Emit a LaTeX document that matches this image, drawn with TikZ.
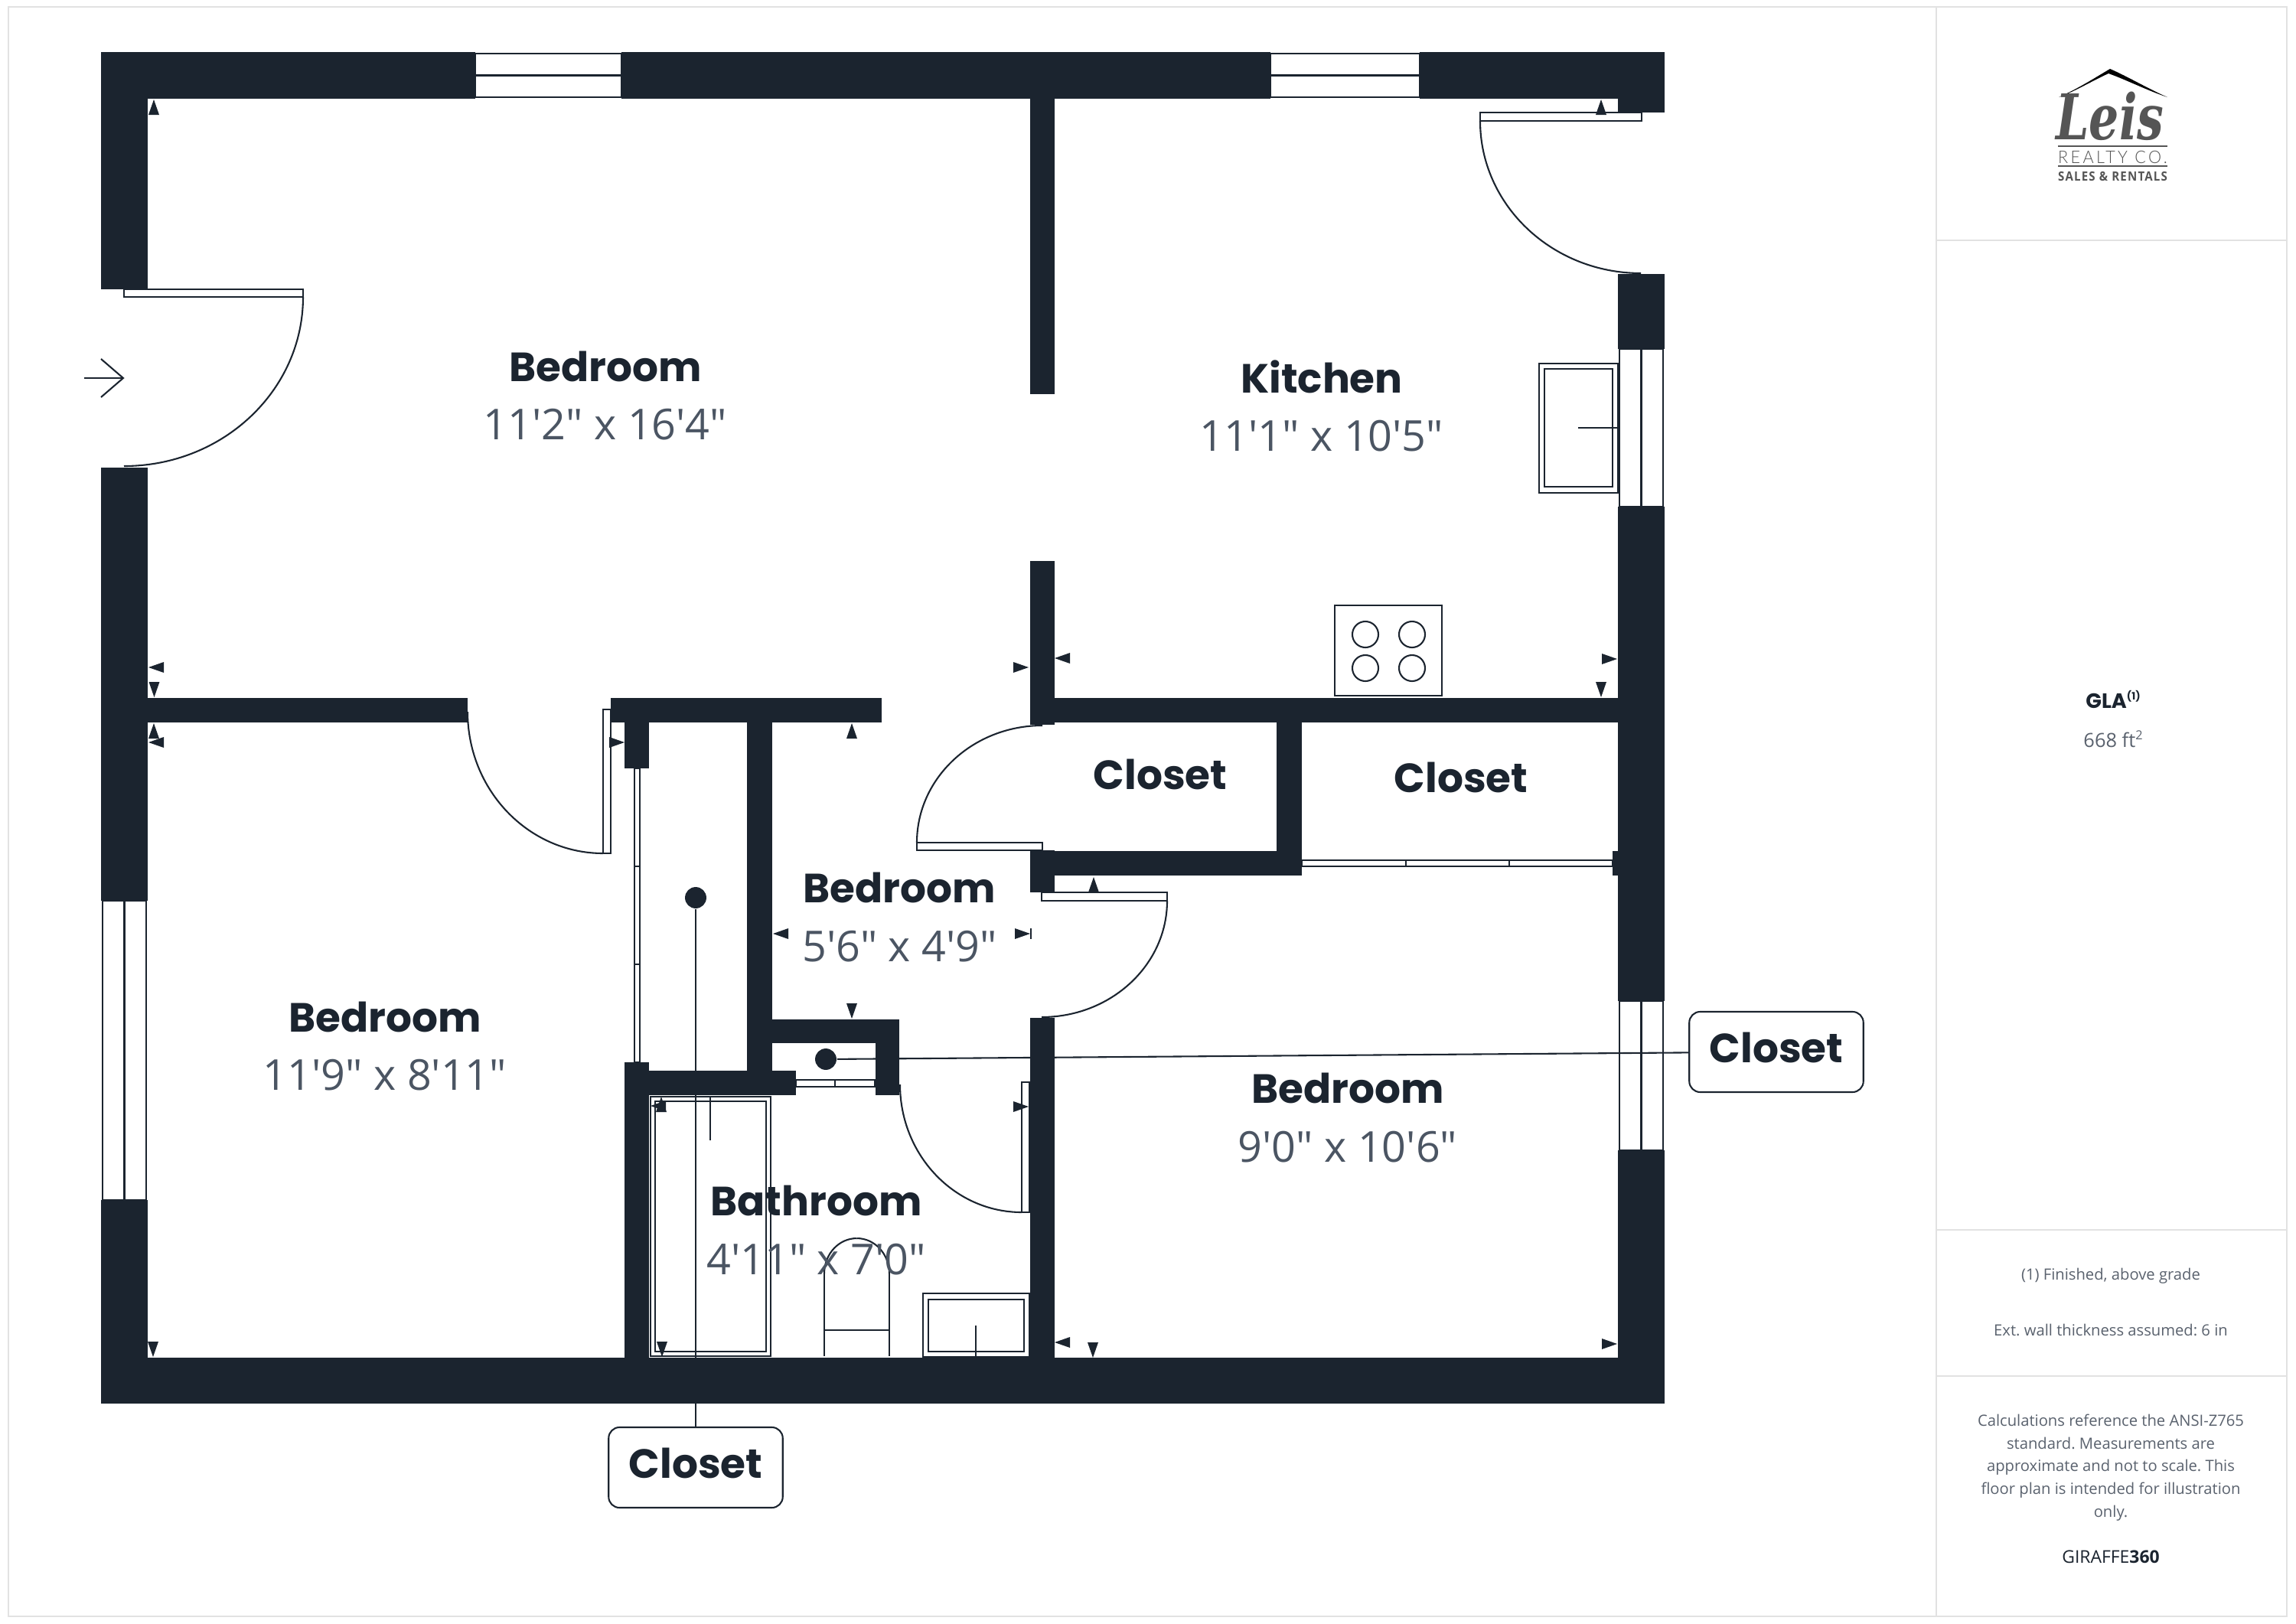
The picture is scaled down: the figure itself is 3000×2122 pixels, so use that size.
\documentclass[tikz,border=0pt]{standalone}
\usepackage{fontspec}
\usetikzlibrary{calc}
\newfontfamily\headf{Poppins}
\newfontfamily\dimf{Open Sans}
\newfontfamily\logof{DejaVu Serif}
\newfontfamily\logolight[LetterSpace=16]{Lato Light}
\newfontfamily\logobold[LetterSpace=8]{Open Sans}
\definecolor{wallc}{RGB}{27,36,47}
\definecolor{dimc}{RGB}{75,85,99}
\definecolor{framec}{RGB}{226,226,226}
\definecolor{sidec}{RGB}{90,98,110}
\definecolor{logoc}{RGB}{85,85,85}
\tikzset{
  wall/.style={fill=wallc},
  thinl/.style={draw=wallc,line width=0.5pt},
  panel/.style={draw=wallc,line width=0.5pt,fill=white},
  frameline/.style={draw=framec,line width=0.55pt},
  roomname/.style={anchor=base,inner sep=0pt,text=wallc,font=\headf\bfseries\fontsize{12.8}{15}\selectfont},
  roomdim/.style={anchor=base,inner sep=0pt,text=dimc,font=\dimf\fontsize{13.35}{15}\selectfont},
  callout/.style={draw=wallc,line width=0.5pt,fill=white,rounded corners=3.4pt,minimum width=54.6pt,minimum height=25.2pt,inner sep=0pt,text=wallc,font=\headf\bfseries\fontsize{12.8}{15}\selectfont},
  dot/.style={circle,fill=wallc,inner sep=0pt,minimum size=6.7pt},
  sidetext/.style={anchor=base,inner sep=0pt,text=sidec,font=\dimf\fontsize{4.85}{7}\selectfont\frenchspacing},
}
\newcommand{\wrect}[4]{\fill[wall] (#1,#2) rectangle (#3,#4);}
\newcommand{\arrU}[2]{\fill[wall] (#1,#2) -- (#1-7,#2+20) -- (#1+7,#2+20) -- cycle;}
\newcommand{\arrD}[2]{\fill[wall] (#1,#2) -- (#1-7,#2-20) -- (#1+7,#2-20) -- cycle;}
\newcommand{\arrL}[2]{\fill[wall] (#1,#2) -- (#1+20,#2-7) -- (#1+20,#2+7) -- cycle;}
\newcommand{\arrR}[2]{\fill[wall] (#1,#2) -- (#1-20,#2-7) -- (#1-20,#2+7) -- cycle;}
\newcommand{\qarc}[3]{\draw[thinl] (#1) .. controls ($(#1)!0.5523!(#2)$) and ($(#3)!0.5523!(#2)$) .. (#3);}
\begin{document}
\begin{tikzpicture}[x=0.24pt,y=-0.24pt]
\useasboundingbox (0,0) rectangle (3000,2122);
\fill[white] (0,0) rectangle (3000,2122);
% frame and sidebar
\draw[frameline] (11,9) rectangle (2988,2112);
\draw[frameline] (2530,9) -- (2530,2112);
\draw[frameline] (2530,314) -- (2988,314);
\draw[frameline] (2530,1607) -- (2988,1607);
\draw[frameline] (2530,1798) -- (2988,1798);
% windows
\draw[panel] (621,70) rectangle (812,127); \draw[thinl] (621,98.5) -- (812,98.5);
\draw[panel] (1660,70) rectangle (1855,127); \draw[thinl] (1660,98.5) -- (1855,98.5);
\draw[panel] (134,1177) rectangle (191,1568); \draw[thinl] (162.5,1177) -- (162.5,1568);
\draw[panel] (2116,456) rectangle (2173,662); \draw[thinl] (2144.5,456) -- (2144.5,662);
\draw[panel] (2116,1308) rectangle (2173,1503); \draw[thinl] (2144.5,1308) -- (2144.5,1503);
% walls
\wrect{132}{68}{621}{128.5}
\wrect{812}{68}{1660}{128.5}
\wrect{1855}{68}{2175}{128.5}
\wrect{2114}{128}{2175}{147}
\wrect{132}{128}{193}{378}
\wrect{132}{611}{193}{1177}
\wrect{132}{1568}{193}{1834}
\wrect{132}{1774}{2175}{1834}
\wrect{2114}{358}{2175}{456}
\wrect{2114}{662}{2175}{1308}
\wrect{2114}{1503}{2175}{1834}
\wrect{1345.5}{128}{1378}{515}
\wrect{1345.5}{733}{1378}{947}
\wrect{1345.5}{912}{2114}{944}
\wrect{192}{912}{611}{944}
\wrect{798}{912}{1152}{944}
\wrect{816}{944}{848}{1004}
\wrect{976}{944}{1009}{1400}
\wrect{1009}{1332}{1175}{1363}
\wrect{1144}{1363}{1175}{1431}
\wrect{816}{1388}{848}{1774}
\wrect{816}{1399}{1040}{1431}
\wrect{1345.5}{1111}{1378}{1166}
\wrect{1345.5}{1112}{1701}{1144}
\wrect{1668}{944}{1701}{1144}
\wrect{2107}{1112}{2114.5}{1144}
\wrect{1345.5}{1330}{1378}{1774}
% doors
\draw[panel] (162,378) rectangle (396,388);
\qarc{396,388}{396,609}{162,609}
\draw[panel] (788,927) rectangle (798,1115);
\qarc{611,930}{611,1115}{788,1115}
\draw[panel] (1198,1101) rectangle (1362,1111);
\qarc{1198,1101}{1198,948}{1362,948}
\draw[panel] (1361,1166) rectangle (1525,1177);
\qarc{1525,1177}{1525,1329}{1361,1329}
\draw[panel] (1335,1414) rectangle (1345,1584);
\qarc{1176,1417}{1176,1584}{1335,1584}
\draw[panel] (1934,147) rectangle (2145,158);
\qarc{1934,158}{1934,357}{2144,357}
% sliding doors
\draw[panel] (829,1004) rectangle (836,1388);
\draw[thinl] (829,1132) -- (836,1132) (829,1260) -- (836,1260);
\draw[panel] (1040,1411) rectangle (1143,1420);
\draw[thinl] (1091,1411) -- (1091,1420);
\draw[panel] (1701,1124) rectangle (2107,1132);
\draw[thinl] (1837,1124) -- (1837,1132) (1972,1124) -- (1972,1132);
% entry arrow
\draw[thinl] (110,494) -- (161,494);
\draw[thinl] (132,469) -- (161,494) -- (132,519);
% fixtures: sink, stove
\draw[thinl] (2011,475) rectangle (2114,644);
\draw[thinl] (2018,482) rectangle (2107,636);
\draw[thinl] (2062,559) -- (2114,559);
\draw[thinl] (1744,791) rectangle (1884,909);
\foreach \cx/\cy in {1784/829,1845/829,1784/873,1845/873}
  \draw[thinl] (\cx,\cy) circle[radius=17];
% tub
\draw[thinl] (850,1433) rectangle (1007,1772);
\draw[thinl] (856,1439) rectangle (1001,1766);
\draw[thinl] (928,1433) -- (928,1490);
% toilet
\draw[thinl] (1077,1772) -- (1077,1664);
\qarc{1077,1664}{1077,1618}{1119.5,1618}
\qarc{1119.5,1618}{1162,1618}{1162,1664}
\draw[thinl] (1162,1664) -- (1162,1772);
\draw[thinl] (1077,1738) -- (1162,1738);
% vanity
\draw[thinl] (1206,1690) rectangle (1345,1773);
\draw[thinl] (1213,1698) rectangle (1338,1766);
\draw[thinl] (1275,1732) -- (1275,1773);
% dimension markers
\arrU{201}{130}
\arrL{194}{872}
\arrD{201.5}{911}
\arrU{201}{945}
\arrL{194}{970}
\arrD{200}{1773}
\arrR{1344}{872}
\arrL{1378}{860}
\arrR{2113}{861}
\arrD{2092}{911}
\arrU{2092}{130}
\arrU{1113}{945}
\arrR{816}{970}
\arrL{1010}{1220}
\arrR{1346}{1220}
\draw[thinl] (1347,1213) -- (1347,1227);
\arrD{1113}{1331}
\arrU{864}{1433}
\arrL{850}{1445}
\arrD{865}{1773}
\arrR{1344}{1446}
\arrL{1378}{1754}
\arrD{1428}{1774}
\arrU{1429}{1146}
\arrR{2113}{1756}
% callouts and leader lines
\node[dot] (dotA) at (909,1173) {};
\node[dot] (dotB) at (1079,1384) {};
\node[callout] (calloutA) at (909,1917.5) {\raisebox{2.7pt}{Closet}};
\node[callout] (calloutB) at (2321,1374.5) {\raisebox{2.7pt}{Closet}};
\draw[thinl] (dotA) -- (calloutA);
\draw[thinl] (dotB) -- (calloutB);
% room labels
\node[roomname] (n1) at (791,498) {Bedroom};
\node[roomdim] (d1) at (791,574) {11'2" x 16'4"};
\node[roomname] (n2) at (1727,513) {Kitchen};
\node[roomdim] (d2) at (1727,589) {11'1" x 10'5"};
\node[roomname] (n3) at (503,1348) {Bedroom};
\node[roomdim] (d3) at (503,1424) {11'9" x 8'11"};
\node[roomname] (n4) at (1175.5,1179) {Bedroom};
\node[roomdim] (d4) at (1175.5,1256) {5'6" x 4'9"};
\node[roomname] (n5) at (1516,1031) {Closet};
\node[roomname] (n6) at (1909,1035) {Closet};
\node[roomname] (n7) at (1761,1441) {Bedroom};
\node[roomdim] (d7) at (1761,1518) {9'0" x 10'6"};
\node[roomname] (n8) at (1066.5,1588) {Bathroom};
\node[roomdim] (d8) at (1066.5,1665) {4'11" x 7'0"};
% sidebar text
\node[anchor=base,inner sep=0pt,text=wallc,font=\headf\bfseries\fontsize{6.5}{8}\selectfont] (gla) at (2761,925) {GLA\raisebox{2.6pt}{\fontsize{3.2}{4}\selectfont (1)}};
\node[anchor=base,inner sep=0pt,text=sidec,font=\dimf\fontsize{6.1}{8}\selectfont] (area) at (2761,976) {668 ft\raisebox{2.3pt}{\fontsize{3.9}{4}\selectfont 2}};
\node[sidetext] (s1) at (2758,1672) {(1) Finished, above grade};
\node[sidetext] (s2) at (2758,1745) {Ext. wall thickness assumed: 6 in};
\node[sidetext] (s3) at (2758,1863) {Calculations reference the ANSI-Z765};
\node[sidetext] (s4) at (2758,1893) {standard. Measurements are};
\node[sidetext] (s5) at (2758,1922.5) {approximate and not to scale. This};
\node[sidetext] (s6) at (2758,1952) {floor plan is intended for illustration};
\node[sidetext] (s7) at (2758,1982) {only.};
\node[anchor=base,inner sep=0pt,text=wallc,font=\dimf\fontsize{5.5}{7}\selectfont] (g3) at (2758,2042) {GIRAFFE{\bfseries 360}};
% logo
\fill[black] (2690,127) .. controls (2715,116) and (2740,100) .. (2757,90) .. controls (2780,100) and (2805,115) .. (2832,127) .. controls (2805,118) and (2780,105) .. (2755,96) .. controls (2735,105) and (2710,120) .. cycle;
\node[anchor=base,inner sep=0pt,text=logoc] (logoA) at (2757,182) {\resizebox{33.8pt}{15pt}{\logof\bfseries\itshape Leis}};
\draw[draw=logoc,line width=0.3pt] (2689,191) -- (2832,191) (2689,217) -- (2832,217);
\node[anchor=base,inner sep=0pt,text=logoc] (logoB) at (2760.5,213) {\resizebox{34.3pt}{3.9pt}{\logolight REALTY CO.}};
\node[anchor=base,inner sep=0pt,text=logoc] (logoC) at (2760.5,236) {\resizebox{34.3pt}{2.9pt}{\logobold\bfseries SALES \& RENTALS}};
\end{tikzpicture}
\end{document}
